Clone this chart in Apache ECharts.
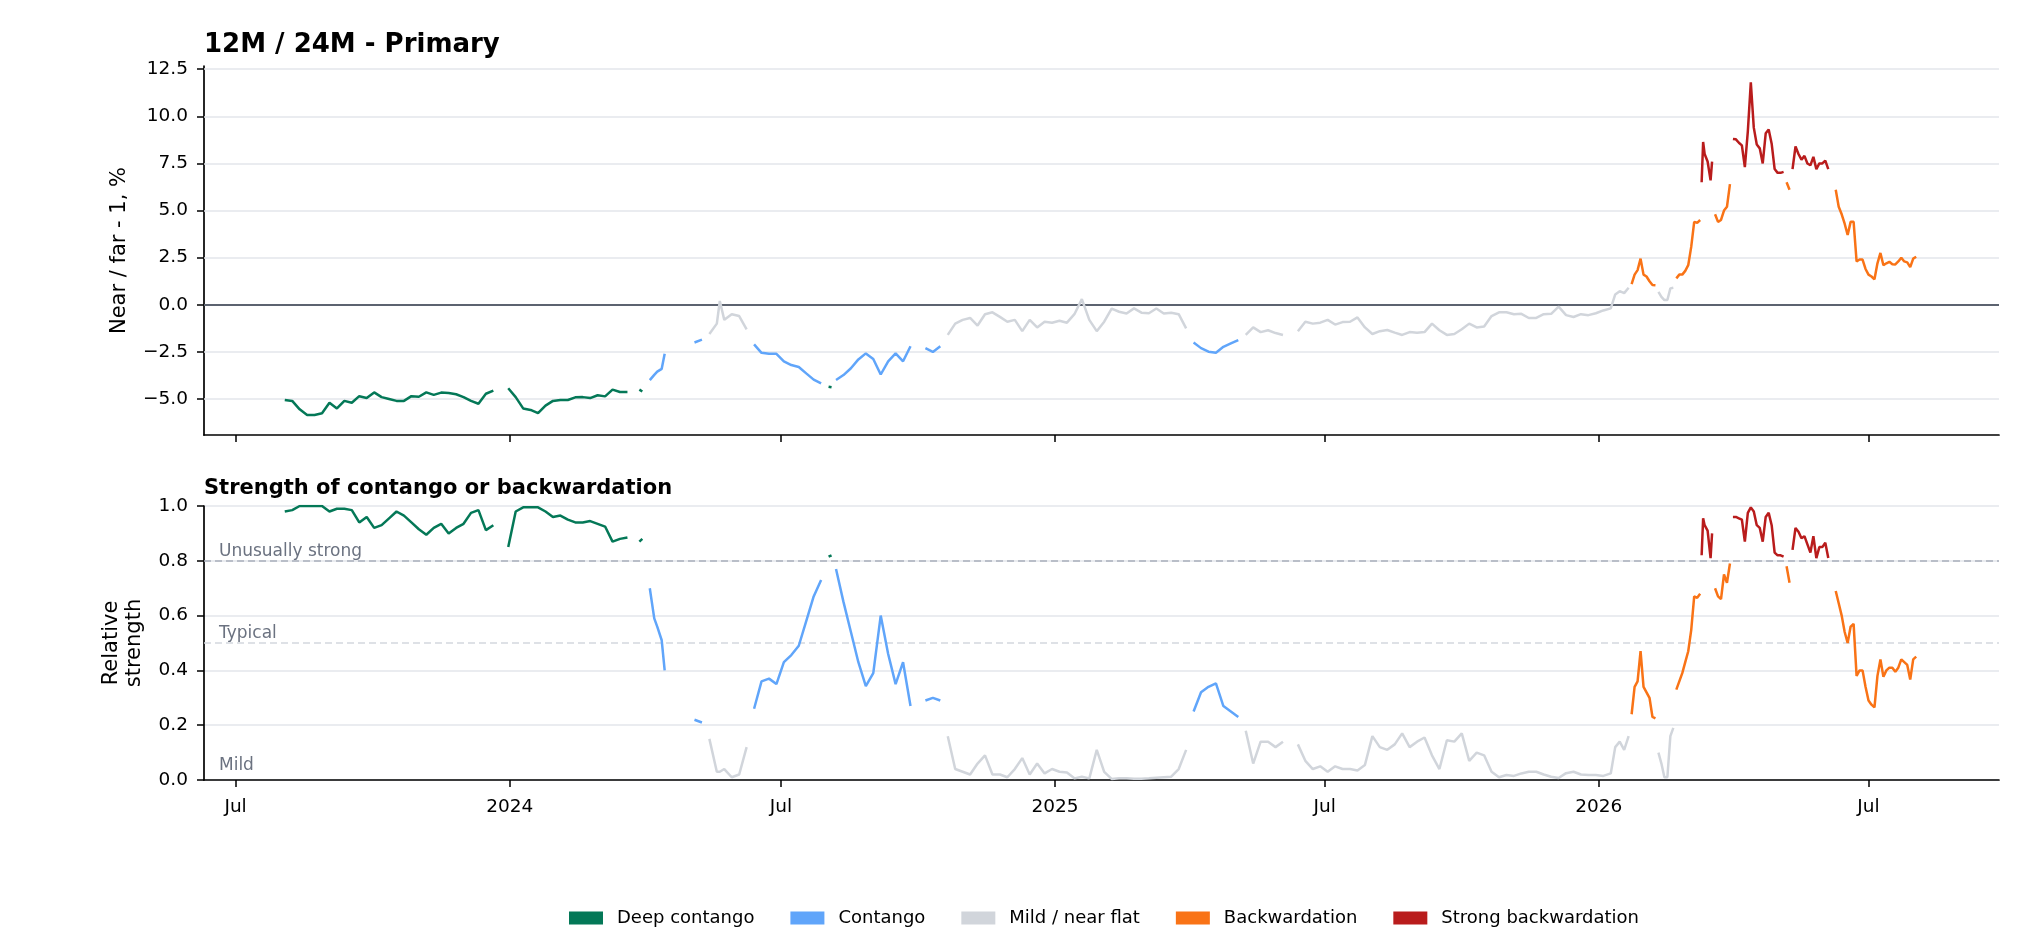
<!DOCTYPE html>
<html><head><meta charset="utf-8">
<script src="https://cdn.jsdelivr.net/npm/echarts@6/dist/echarts.min.js"></script>
<style>html,body{margin:0;padding:0;background:#fff}#c{width:2040px;height:951px}</style>
</head><body><div id="c"></div>
<script>
// ---------- DATA ----------
const dates = [
 '2023-08-03','2023-08-08','2023-08-13','2023-08-18','2023-08-23','2023-08-28',
 '2023-09-02','2023-09-07','2023-09-12','2023-09-17','2023-09-22','2023-09-27',
 '2023-10-02','2023-10-07','2023-10-12','2023-10-17','2023-10-22','2023-10-27',
 '2023-11-01','2023-11-06','2023-11-11','2023-11-16','2023-11-21','2023-11-26',
 '2023-12-01','2023-12-06','2023-12-11','2023-12-16','2023-12-21','2023-12-26','2023-12-31',
 '2024-01-05','2024-01-10','2024-01-15','2024-01-20','2024-01-25','2024-01-30',
 '2024-02-04','2024-02-09','2024-02-14','2024-02-19','2024-02-24','2024-02-29',
 '2024-03-05','2024-03-10','2024-03-15','2024-03-20','2024-03-25','2024-03-28','2024-03-30',
 '2024-04-04','2024-04-07','2024-04-09','2024-04-12','2024-04-14','2024-04-19','2024-04-24','2024-04-29',
 '2024-05-04','2024-05-09','2024-05-14','2024-05-19','2024-05-21','2024-05-24','2024-05-29',
 '2024-06-03','2024-06-08','2024-06-13','2024-06-18','2024-06-23','2024-06-28',
 '2024-07-03','2024-07-08','2024-07-13','2024-07-18','2024-07-23','2024-07-28',
 '2024-08-02','2024-08-04','2024-08-07','2024-08-12','2024-08-17','2024-08-22','2024-08-27',
 '2024-09-01','2024-09-06','2024-09-11','2024-09-16','2024-09-21','2024-09-26',
 '2024-10-01','2024-10-06','2024-10-11','2024-10-16','2024-10-21','2024-10-26','2024-10-31',
 '2024-11-05','2024-11-10','2024-11-15','2024-11-20','2024-11-25','2024-11-30',
 '2024-12-05','2024-12-10','2024-12-15','2024-12-20','2024-12-25','2024-12-30',
 '2025-01-04','2025-01-09','2025-01-14','2025-01-19','2025-01-24','2025-01-29',
 '2025-02-03','2025-02-08','2025-02-13','2025-02-18','2025-02-23','2025-02-28',
 '2025-03-05','2025-03-10','2025-03-15','2025-03-20','2025-03-25','2025-03-30',
 '2025-04-04','2025-04-09','2025-04-14','2025-04-19','2025-04-24','2025-04-29',
 '2025-05-04','2025-05-09','2025-05-14','2025-05-19','2025-05-24','2025-05-29',
 '2025-06-03','2025-06-08','2025-06-13','2025-06-18','2025-06-23','2025-06-28',
 '2025-07-03','2025-07-08','2025-07-13','2025-07-18','2025-07-23','2025-07-28',
 '2025-08-02','2025-08-07','2025-08-12','2025-08-17','2025-08-22','2025-08-27',
 '2025-09-01','2025-09-06','2025-09-11','2025-09-16','2025-09-21','2025-09-26',
 '2025-10-01','2025-10-06','2025-10-11','2025-10-16','2025-10-21','2025-10-26','2025-10-31',
 '2025-11-05','2025-11-10','2025-11-15','2025-11-20','2025-11-25','2025-11-30',
 '2025-12-05','2025-12-10','2025-12-15','2025-12-20','2025-12-25','2025-12-30',
 '2026-01-04','2026-01-09','2026-01-12','2026-01-15','2026-01-18','2026-01-21','2026-01-23','2026-01-25','2026-01-27','2026-01-29','2026-01-31',
 '2026-02-02','2026-02-04','2026-02-06','2026-02-08','2026-02-10','2026-02-12','2026-02-14','2026-02-16','2026-02-18','2026-02-20','2026-02-22','2026-02-24','2026-02-26','2026-02-28',
 '2026-03-02','2026-03-04','2026-03-06','2026-03-08','2026-03-10','2026-03-11','2026-03-12','2026-03-13','2026-03-15','2026-03-17','2026-03-18','2026-03-20','2026-03-22','2026-03-24','2026-03-26','2026-03-28','2026-03-30',
 '2026-04-01','2026-04-03','2026-04-05','2026-04-07','2026-04-09','2026-04-11','2026-04-13','2026-04-15','2026-04-17','2026-04-19','2026-04-21','2026-04-23','2026-04-25','2026-04-27','2026-04-29',
 '2026-05-01','2026-05-03','2026-05-05','2026-05-07','2026-05-09','2026-05-11','2026-05-13','2026-05-15','2026-05-17','2026-05-19','2026-05-21','2026-05-23','2026-05-25','2026-05-27','2026-05-29','2026-05-31',
 '2026-06-02','2026-06-04','2026-06-09','2026-06-11','2026-06-13','2026-06-15','2026-06-17','2026-06-19','2026-06-21','2026-06-23','2026-06-25','2026-06-27','2026-06-29',
 '2026-07-01','2026-07-03','2026-07-05','2026-07-07','2026-07-09','2026-07-11','2026-07-13','2026-07-15','2026-07-17','2026-07-19','2026-07-21','2026-07-23','2026-07-25','2026-07-27','2026-07-29','2026-07-31','2026-08-02'
];

// Near / far - 1, %
const spread = [
 -5.05,-5.10,-5.55,-5.85,-5.85,-5.76,
 -5.20,-5.50,-5.10,-5.20,-4.85,-4.95,
 -4.65,-4.90,-5.00,-5.10,-5.10,-4.85,
 -4.88,-4.65,-4.78,-4.66,-4.68,-4.75,
 -4.90,-5.10,-5.25,-4.72,-4.55,-4.40,-4.43,
 -4.90,-5.50,-5.58,-5.75,-5.35,-5.10,
 -5.05,-5.05,-4.91,-4.90,-4.95,-4.80,
 -4.86,-4.50,-4.63,-4.63,-4.40,-4.50,-4.60,
 -4.00,-3.72,-3.55,-3.40,-2.60,-0.80,-1.90,-1.50,
 -2.00,-1.85,-1.55,-1.00,0.20,-0.80,-0.50,
 -0.60,-1.30,-2.10,-2.55,-2.60,-2.60,
 -3.00,-3.20,-3.30,-3.64,-3.97,-4.17,
 -4.35,-4.38,-3.99,-3.73,-3.37,-2.90,-2.58,
 -2.88,-3.70,-3.00,-2.58,-3.00,-2.20,
 -1.45,-2.30,-2.50,-2.20,-1.60,-1.00,-0.80,
 -0.70,-1.10,-0.50,-0.40,-0.64,-0.90,
 -0.80,-1.40,-0.80,-1.20,-0.90,-0.95,
 -0.85,-0.95,-0.50,0.30,-0.80,-1.40,
 -0.90,-0.20,-0.37,-0.46,-0.19,-0.42,
 -0.45,-0.20,-0.46,-0.42,-0.50,-1.25,
 -2.00,-2.30,-2.49,-2.54,-2.23,-2.05,
 -1.87,-1.60,-1.20,-1.45,-1.35,-1.50,
 -1.60,-1.80,-1.40,-0.90,-1.00,-0.95,
 -0.80,-1.05,-0.92,-0.90,-0.67,-1.20,
 -1.55,-1.40,-1.34,-1.48,-1.60,-1.45,
 -1.48,-1.45,-1.00,-1.35,-1.60,-1.55,
 -1.30,-1.00,-1.20,-1.15,-0.60,-0.40,-0.40,
 -0.50,-0.48,-0.70,-0.70,-0.50,-0.48,
 -0.10,-0.55,-0.65,-0.50,-0.55,-0.45,
 -0.30,-0.19,0.55,0.72,0.62,0.90,1.10,1.60,1.84,2.45,1.60,
 1.50,1.25,1.05,1.04,0.69,0.42,0.25,0.25,0.87,0.90,1.40,1.60,1.60,1.80,
 2.10,3.07,4.40,4.35,4.50,6.50,8.64,8.00,7.60,6.60,7.60,4.80,4.40,4.50,5.00,5.20,6.40,
 8.80,8.78,8.60,8.46,7.30,9.20,11.80,9.40,8.50,8.30,7.50,9.10,9.30,8.55,7.20,
 7.00,7.00,7.05,6.50,6.10,7.20,8.40,8.00,7.70,7.90,7.50,7.40,7.85,7.20,7.50,7.50,
 7.65,7.20,6.10,5.20,4.80,4.30,3.70,4.40,4.40,2.30,2.40,2.40,1.90,
 1.60,1.50,1.35,2.20,2.75,2.10,2.20,2.28,2.15,2.14,2.30,2.50,2.30,2.25,2.00,2.45,2.55
];

// Relative strength (0..1)
const strength = [
 0.98,0.985,1.0,1.0,1.0,1.0,
 0.98,0.99,0.99,0.985,0.94,0.96,
 0.92,0.93,0.955,0.98,0.965,0.94,
 0.915,0.895,0.92,0.935,0.90,0.92,
 0.935,0.975,0.985,0.912,0.93,0.78,0.85,
 0.98,0.995,0.995,0.995,0.98,0.96,
 0.965,0.95,0.94,0.94,0.945,0.935,
 0.925,0.87,0.88,0.885,0.77,0.87,0.88,
 0.70,0.59,0.56,0.51,0.40,0.02,0.23,0.10,
 0.22,0.21,0.15,0.03,0.03,0.04,0.01,
 0.02,0.12,0.26,0.36,0.37,0.35,
 0.43,0.456,0.49,0.58,0.67,0.73,
 0.815,0.82,0.77,0.65,0.54,0.43,0.343,
 0.39,0.60,0.46,0.35,0.43,0.27,
 0.10,0.29,0.30,0.29,0.16,0.04,0.03,
 0.02,0.06,0.09,0.02,0.02,0.01,
 0.04,0.08,0.02,0.06,0.024,0.04,
 0.03,0.027,0.006,0.012,0.006,0.11,
 0.03,0.004,0.006,0.006,0.005,0.005,
 0.006,0.008,0.01,0.012,0.04,0.11,
 0.25,0.32,0.34,0.353,0.27,0.25,
 0.23,0.18,0.06,0.14,0.14,0.12,
 0.14,0.23,0.13,0.07,0.04,0.05,
 0.03,0.05,0.04,0.04,0.035,0.055,
 0.16,0.12,0.11,0.13,0.17,0.12,
 0.14,0.155,0.09,0.04,0.145,0.14,
 0.17,0.07,0.10,0.09,0.03,0.01,0.018,
 0.015,0.024,0.03,0.03,0.02,0.012,
 0.007,0.025,0.03,0.02,0.018,0.018,
 0.015,0.024,0.12,0.14,0.11,0.16,0.24,0.34,0.36,0.47,0.34,
 0.32,0.30,0.23,0.225,0.10,0.06,0.01,0.01,0.16,0.19,0.33,0.36,0.39,0.43,
 0.47,0.547,0.67,0.665,0.68,0.82,0.955,0.93,0.91,0.81,0.90,0.70,0.67,0.66,0.75,0.72,0.79,
 0.96,0.96,0.955,0.95,0.87,0.975,0.995,0.98,0.93,0.92,0.87,0.96,0.975,0.93,0.83,
 0.82,0.82,0.815,0.78,0.72,0.84,0.92,0.906,0.882,0.89,0.86,0.83,0.89,0.81,0.85,0.85,
 0.866,0.81,0.69,0.645,0.60,0.54,0.50,0.56,0.57,0.38,0.40,0.40,0.34,
 0.29,0.275,0.265,0.38,0.44,0.377,0.40,0.41,0.41,0.395,0.41,0.44,0.43,0.42,0.367,0.44,0.45
];

const regimeNames = ['Deep contango','Contango','Mild / near flat','Backwardation','Strong backwardation'];
const regimeColors = ['#047857','#60a5fa','#d1d5db','#f97316','#b91c1c'];
const strongLevel = 0.8;   // "Unusually strong"
const typicalLevel = 0.5;  // "Typical"
const mildLevel = 0.2;     // below this: mild / near flat
const xTickDates = ['2023-07-01','2024-01-01','2024-07-01','2025-01-01','2025-07-01','2026-01-01','2026-07-01'];
const spreadTicks = [-5, -2.5, 0, 2.5, 5, 7.5, 10, 12.5];
const spreadRange = [-6.91, 12.67];
const xRange = ['2023-06-09T19:00', '2026-09-26T14:00'];

// ---------- BUILD ----------
function ts(s) {
  const [d, t] = s.split('T');
  const [y, m, dd] = d.split('-').map(Number);
  let h = 0, mi = 0;
  if (t) { [h, mi] = t.split(':').map(Number); }
  return Date.UTC(y, m - 1, dd, h, mi);
}
const times = dates.map(ts);
function regimeOf(sp, st) {
  if (st < mildLevel) return 2;
  if (st >= strongLevel) return sp < 0 ? 0 : 4;
  return sp < 0 ? 1 : 3;
}
const regimes = spread.map((v, i) => regimeOf(v, strength[i]));

const FONT = 'DejaVu Sans';
const gridColor = '#e3e6eb';
const TICK_FS = 18.5;

function makeSeries(panel, vals) {
  return regimeNames.map((name, r) => ({
    name, type: 'line', xAxisIndex: panel, yAxisIndex: panel,
    showSymbol: false, symbol: 'none', connectNulls: false, animation: false,
    color: regimeColors[r],
    lineStyle: { width: 2.5, color: regimeColors[r] },
    emphasis: { disabled: true },
    z: 3,
    data: times.map((t, i) => [t, regimes[i] === r ? vals[i] : null])
  }));
}

const topSeries = makeSeries(0, spread);
const botSeries = makeSeries(1, strength);

topSeries[0].markLine = {
  silent: true, symbol: ['none', 'none'], z: 1, animation: false,
  label: { show: false },
  data: spreadTicks.filter(v => v !== 0).map(v => ({ yAxis: v, lineStyle: { color: gridColor, width: 1.5, type: 'solid' } }))
    .concat([{ yAxis: 0, lineStyle: { color: '#5c6370', width: 1.8, type: 'solid' } }])
};

const annLabel = (txt, dy) => ({
  show: true, formatter: txt, position: 'insideStartTop', distance: [15, dy],
  color: '#6b7280', fontSize: 17, fontFamily: FONT
});
botSeries[0].markLine = {
  silent: true, symbol: ['none', 'none'], z: 1, animation: false,
  data: [
    { yAxis: strongLevel, lineStyle: { color: '#a9afbb', width: 1.5, type: [7, 4] }, label: annLabel('Unusually strong', 1) },
    { yAxis: typicalLevel, lineStyle: { color: '#d3d7de', width: 1.5, type: [7, 4] }, label: annLabel('Typical', 1) },
    { yAxis: 0, lineStyle: { color: 'rgba(0,0,0,0)', width: 0 }, label: annLabel('Mild', 5.5) }
  ]
};

const xTicks = xTickDates.map(ts);
function xAxisCfg(grid, showLabels) {
  return {
    type: 'value', gridIndex: grid, min: ts(xRange[0]), max: ts(xRange[1]),
    axisLine: { show: true, onZero: false, lineStyle: { color: '#000', width: 1.7 } },
    axisTick: { show: true, length: 7, lineStyle: { color: '#000', width: 1.5 }, customValues: xTicks },
    axisLabel: {
      show: showLabels, customValues: xTicks, margin: 18, fontSize: TICK_FS, color: '#000', fontFamily: FONT,
      formatter: (v) => { const d = new Date(v); return d.getUTCMonth() === 0 ? String(d.getUTCFullYear()) : 'Jul'; }
    },
    splitLine: { show: false }
  };
}
const fmtNum = (v) => (v < 0 ? '\u2212' : '') + Math.abs(v).toFixed(1);

const option = {
  animation: false,
  backgroundColor: '#fff',
  textStyle: { fontFamily: FONT },
  title: [
    { text: '12M / 24M - Primary', left: 204, top: 32, padding: 0,
      textStyle: { fontSize: 26, fontWeight: 'bold', color: '#000', fontFamily: FONT } },
    { text: 'Strength of contango or backwardation', left: 204, top: 478, padding: 0,
      textStyle: { fontSize: 21, fontWeight: 'bold', color: '#000', fontFamily: FONT } }
  ],
  legend: {
    data: regimeNames, left: 564, top: 904, icon: 'rect', itemWidth: 34, itemHeight: 13, itemGap: 36,
    textStyle: { fontSize: 18, color: '#000', fontFamily: FONT, padding: [0, 0, 0, 9] },
    selectedMode: false
  },
  grid: [
    { left: 204, top: 66, width: 1795, height: 369 },
    { left: 204, top: 506, width: 1795, height: 274 }
  ],
  xAxis: [xAxisCfg(0, false), xAxisCfg(1, true)],
  yAxis: [
    {
      type: 'value', gridIndex: 0, min: spreadRange[0], max: spreadRange[1],
      name: 'Near / far - 1, %', nameLocation: 'middle', nameGap: 74,
      nameTextStyle: { fontSize: 21, color: '#000', fontFamily: FONT },
      axisLine: { show: true, onZero: false, lineStyle: { color: '#000', width: 1.7 } },
      axisTick: { show: true, length: 7, lineStyle: { color: '#000', width: 1.5 }, customValues: spreadTicks },
      axisLabel: { customValues: spreadTicks, formatter: fmtNum, fontSize: TICK_FS, color: '#000', margin: 16, fontFamily: FONT },
      splitLine: { show: false }
    },
    {
      type: 'value', gridIndex: 1, min: 0, max: 1, interval: 0.2,
      name: 'Relative\nstrength', nameLocation: 'middle', nameGap: 58,
      nameTextStyle: { fontSize: 21, color: '#000', fontFamily: FONT, lineHeight: 23 },
      axisLine: { show: true, onZero: false, lineStyle: { color: '#000', width: 1.7 } },
      axisTick: { show: true, length: 7, lineStyle: { color: '#000', width: 1.5 } },
      axisLabel: { formatter: (v) => v.toFixed(1), fontSize: TICK_FS, color: '#000', margin: 16, fontFamily: FONT },
      splitLine: { show: true, lineStyle: { color: gridColor, width: 1.5 } }
    }
  ],
  series: topSeries.concat(botSeries)
};

const chart = echarts.init(document.getElementById('c'), null, { renderer: 'canvas' });
chart.setOption(option);
if (dates.length !== spread.length || dates.length !== strength.length) {
  throw new Error('length mismatch ' + dates.length + ' ' + spread.length + ' ' + strength.length);
}
</script>
</body></html>
